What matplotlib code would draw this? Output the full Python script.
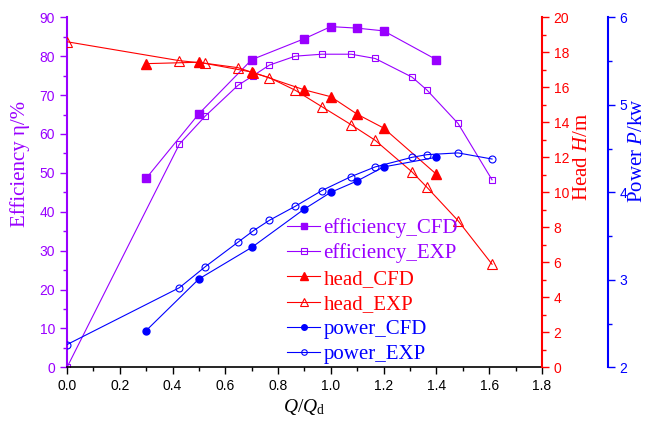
import matplotlib.pyplot as plt
from matplotlib.ticker import MultipleLocator

# data
q_eff_cfd = [0.3, 0.5, 0.7, 0.9, 1.0, 1.1, 1.2, 1.4]
eff_cfd = [48.6, 65.2, 79.1, 84.5, 87.6, 87.2, 86.5, 79.1]

q_exp = [0.0, 0.426, 0.524, 0.648, 0.706, 0.767, 0.865, 0.966, 1.077, 1.168, 1.308, 1.364, 1.482, 1.611]
eff_exp = [0.0, 57.4, 64.6, 72.5, 75.0, 77.7, 80.0, 80.5, 80.5, 79.4, 74.6, 71.3, 62.7, 48.2]
head_exp = [18.6, 17.52, 17.37, 17.12, 16.83, 16.55, 15.83, 14.89, 13.86, 12.97, 11.16, 10.29, 8.38, 5.89]
power_exp = [2.26, 2.91, 3.15, 3.43, 3.56, 3.68, 3.84, 4.02, 4.18, 4.29, 4.40, 4.43, 4.45, 4.38]

q_cfd = [0.3, 0.5, 0.7, 0.9, 1.0, 1.1, 1.2, 1.4]
head_cfd = [17.35, 17.43, 16.87, 15.85, 15.46, 14.46, 13.67, 11.03]
power_cfd = [2.42, 3.01, 3.37, 3.81, 4.00, 4.13, 4.29, 4.40]

purple = '#9900FF'
red = '#FF0000'
blue = '#0000FF'
serif = 'Liberation Serif'
sans = 'Liberation Sans'

plt.rcParams['font.family'] = sans
plt.rcParams['font.size'] = 10
plt.rcParams['mathtext.fontset'] = 'custom'
plt.rcParams['mathtext.rm'] = serif
plt.rcParams['mathtext.it'] = serif + ':italic'

fig = plt.figure(figsize=(6.47, 4.21), dpi=100)
ax = fig.add_axes([0.1036, 0.1275, 0.734, 0.8315])
ax2 = ax.twinx()
ax3 = ax.twinx()
ax3.spines['right'].set_position(('axes', 1.139))

l1, = ax.plot(q_eff_cfd, eff_cfd, '-s', color=purple, lw=0.8, ms=5.5, label='efficiency_CFD')
l2, = ax.plot(q_exp, eff_exp, '-s', color=purple, lw=0.8, ms=5, mfc='none', mew=0.8, label='efficiency_EXP')
l3, = ax2.plot(q_cfd, head_cfd, '-^', color=red, lw=0.8, ms=7, label='head_CFD')
l4, = ax2.plot(q_exp, head_exp, '-^', color=red, lw=0.8, ms=7, mfc='none', mew=0.8, label='head_EXP')
l5, = ax3.plot(q_cfd, power_cfd, '-o', color=blue, lw=0.8, ms=5, label='power_CFD')
l6, = ax3.plot(q_exp, power_exp, '-o', color=blue, lw=0.8, ms=5, mfc='none', mew=0.8, label='power_EXP')

ax.set_xlim(0, 1.8)
ax.set_ylim(0, 90)
ax2.set_ylim(0, 20)
ax3.set_ylim(2, 6)

ax.xaxis.set_major_locator(MultipleLocator(0.2))
ax.xaxis.set_minor_locator(MultipleLocator(0.1))
ax.yaxis.set_major_locator(MultipleLocator(10))
ax.yaxis.set_minor_locator(MultipleLocator(5))
ax2.yaxis.set_major_locator(MultipleLocator(2))
ax2.yaxis.set_minor_locator(MultipleLocator(1))
ax3.yaxis.set_major_locator(MultipleLocator(1))
ax3.yaxis.set_minor_locator(MultipleLocator(0.5))
ax.xaxis.set_major_formatter(plt.FormatStrFormatter('%.1f'))

for a in (ax, ax2, ax3):
    a.spines['top'].set_visible(False)
ax.spines['right'].set_visible(False)
ax3.spines['left'].set_visible(False)
ax2.spines['left'].set_visible(False)

ax.spines['left'].set_color(purple)
ax.spines['left'].set_linewidth(1.5)
ax.spines['bottom'].set_linewidth(1.2)
ax2.spines['right'].set_color(red)
ax2.spines['right'].set_linewidth(1.5)
ax3.spines['right'].set_color(blue)
ax3.spines['right'].set_linewidth(1.5)
ax2.spines['bottom'].set_visible(False)
ax3.spines['bottom'].set_visible(False)

ax.tick_params(axis='x', which='major', length=5, width=1, direction='out')
ax.tick_params(axis='x', which='minor', length=3, width=1, direction='out')
ax.tick_params(axis='y', which='major', length=5, width=1, colors=purple, labelsize=10)
ax.tick_params(axis='y', which='minor', length=3, width=1, colors=purple)
ax2.tick_params(axis='y', which='major', length=5, width=1, colors=red)
ax2.tick_params(axis='y', which='minor', length=3, width=1, colors=red)
ax3.tick_params(axis='y', which='major', length=5, width=1, colors=blue)
ax3.tick_params(axis='y', which='minor', length=3, width=1, colors=blue)

ax.set_ylabel('Efficiency η/%', color=purple, family=serif, fontsize=15)
ax2.set_ylabel('Head $\\mathit{H}$/m', color=red, family=serif, fontsize=15)
ax3.set_ylabel('Power $\\mathit{P}$/kw', color=blue, family=serif, fontsize=15)
ax.set_xlabel('$\\mathit{Q}$/$\\mathit{Q}_\\mathrm{d}$', family=serif, fontsize=14)

ax.yaxis.set_label_coords(-0.078, 0.58)
ax2.yaxis.set_label_coords(1.066, 0.6)
ax3.yaxis.set_label_coords(1.182, 0.62)
ax.xaxis.set_label_coords(0.5, -0.085)

leg = fig.legend([l1, l2, l3, l4, l5, l6],
                 [l.get_label() for l in (l1, l2, l3, l4, l5, l6)],
                 loc='upper left', bbox_to_anchor=(287 / 647, 1 - 218 / 421),
                 frameon=False, prop={'family': serif, 'size': 15},
                 handlelength=1.6, handletextpad=0.15, labelspacing=0.27,
                 borderpad=0, borderaxespad=0, markerscale=0.8)
for t, c in zip(leg.get_texts(), [purple, purple, red, red, blue, blue]):
    t.set_color(c)

fig.savefig('out.png', dpi=100)
